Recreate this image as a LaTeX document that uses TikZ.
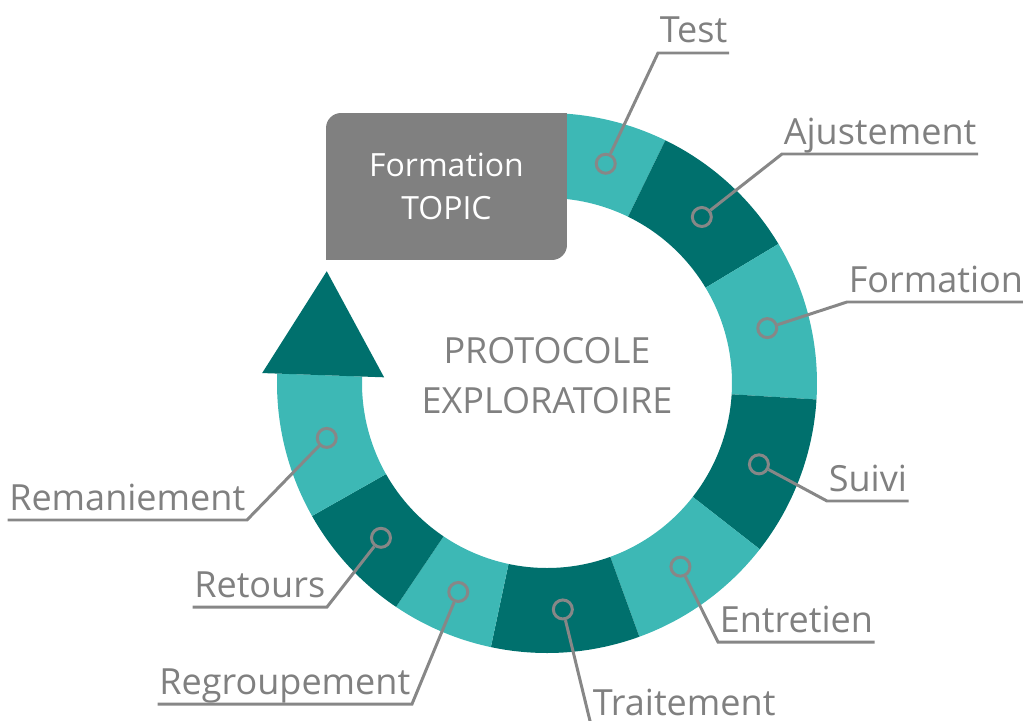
\documentclass[tikz,border=0pt]{standalone}
\usepackage{fontspec}
\setmainfont{Open Sans}
\usetikzlibrary{calc}
\definecolor{tealLight}{HTML}{3DB8B5}
\definecolor{tealDark}{HTML}{00706D}
\definecolor{boxGray}{HTML}{808080}
\definecolor{txtGray}{HTML}{808080}
\definecolor{lineGray}{HTML}{878787}
\def\ringseg[#1](#2:#3){\fill[#1] (#2:\rin) arc (#2:#3:\rin) -- (#3:\rout) arc (#3:#2:\rout) -- cycle;}

\begin{document}
\begin{tikzpicture}[x=0.02cm,y=0.02cm,
	dot/.style={circle,draw=lineGray,line width=1.7pt,minimum size=0.38cm,inner sep=0pt},
	lbl/.style={text=txtGray,font=\fontsize{20.5}{24}\selectfont,inner xsep=1pt,inner ysep=0pt,outer sep=0pt,text depth=0.2cm},
	lead/.style={draw=lineGray,line width=1.7pt}]
				%%%%% START %%%%%
				\def\rin{185}
				\def\rout{270}
				\def\rmid{227}
				
				\useasboundingbox (-547,-337) rectangle (476,383);
				\clip (-547,-337) rectangle (476,383);
				
				\ringseg[tealLight](96:64)
				\ringseg[tealDark](64:31)
				\ringseg[tealLight](31:-3.5)
				\ringseg[tealDark](-3.5:-38)
				\ringseg[tealLight](-38:-70)
				\ringseg[tealDark](-70:-102)
				\ringseg[tealLight](-102:-124)
				\ringseg[tealDark](-124:-150.5)
				\ringseg[tealLight](-150.5:-182)
				\fill[tealDark] (178:285) -- (178:163) -- ($(178:224)+(88:104)$) -- cycle;
				
				\node[fill=boxGray,rounded corners=0.3cm,minimum width=4.82cm,minimum height=2.94cm,
					text=white,align=center,font=\fontsize{18.2}{24.5}\selectfont] (topic) at (-100.5,196.5) {Formation\\TOPIC};
				\fill[boxGray] (topic.north east) rectangle ++(-20,-20);
				\fill[boxGray] (topic.south west) rectangle ++(20,20);
				
				\node[text=txtGray,align=center,font=\fontsize{20.5}{28.5}\selectfont] (proto) at (0,7) {PROTOCOLE\\EXPLORATOIRE};
				
				\node[dot] (dtest) at (75:\rmid) {};
				\node[dot] (dajust) at (47:\rmid) {};
				\node[dot] (dform) at (14:\rmid) {};
				\node[dot] (dsuivi) at (-21:\rmid) {};
				\node[dot] (dentr) at (-54:\rmid) {};
				\node[dot] (dtrait) at (-86:\rmid) {};
				\node[dot] (dregr) at (-113:\rmid) {};
				\node[dot] (dret) at (-137:\rmid) {};
				\node[dot] (drem) at (-166:\rmid) {};
				
				\node[lbl,anchor=south west] (ltest) at (111,330) {Test};
				\node[lbl,anchor=south west] (lajust) at (235,229) {Ajustement};
				\node[lbl,anchor=south west] (lform) at (300,81) {Formation};
				\node[lbl,anchor=south west] (lsuivi) at (280,-118) {Suivi};
				\node[lbl,anchor=south west] (lentr) at (171,-259) {Entretien};
				\node[lbl,text depth=0pt,anchor=base west] (ltrait) at (44,-332) {Traitement};
				\coordinate (etrait) at (44,-342);
				\node[lbl,anchor=south east] (lregr) at (-135,-321) {Regroupement};
				\node[lbl,anchor=south east] (lret) at (-220,-224) {Retours};
				\node[lbl,anchor=south east] (lrem) at (-300,-137) {Remaniement};
				
				\draw[lead] (dtest) -- (ltest.south west) -- (ltest.south east);
				\draw[lead] (dajust) -- (lajust.south west) -- (lajust.south east);
				\draw[lead] (dform) -- (lform.south west) -- (lform.south east);
				\draw[lead] (dsuivi) -- (lsuivi.south west) -- (lsuivi.south east);
				\draw[lead] (dentr) -- (lentr.south west) -- (lentr.south east);
				\draw[lead] (dtrait) -- (etrait) -- (etrait -| ltrait.east);
				\draw[lead] (dregr) -- (lregr.south east) -- (lregr.south west);
				\draw[lead] (dret) -- (lret.south east) -- (lret.south west);
				\draw[lead] (drem) -- (lrem.south east) -- (lrem.south west);
				%%%%% END %%%%%
\end{tikzpicture}
\end{document}
